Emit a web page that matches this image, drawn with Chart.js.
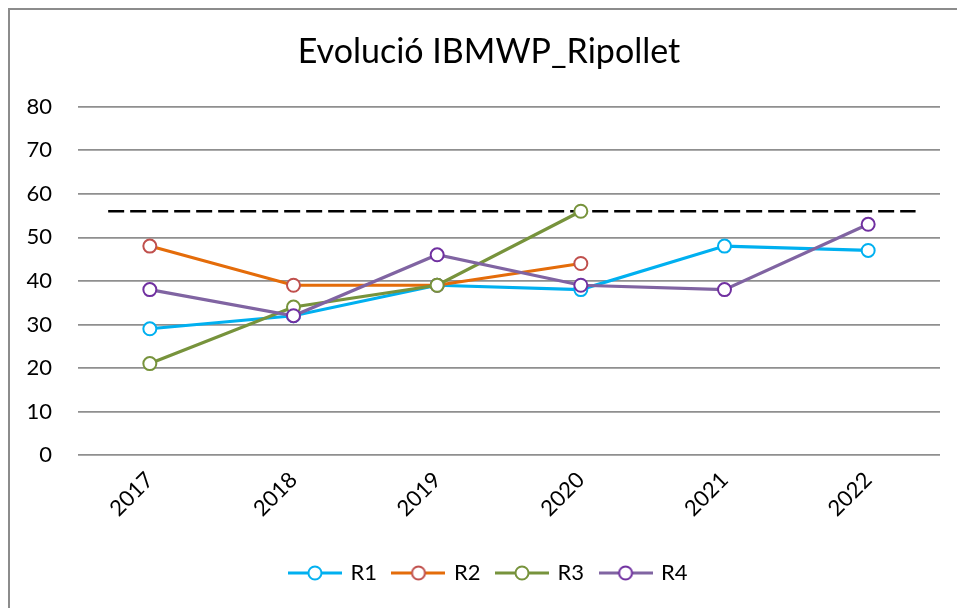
<!DOCTYPE html>
<html>
<head>
<meta charset="utf-8">
<title>Evolució IBMWP_Ripollet</title>
<script src="https://cdn.jsdelivr.net/npm/chart.js@4/dist/chart.umd.min.js"></script>
<style>
    html, body { margin: 0; padding: 0; background: #fff; }
    .frame {
        position: absolute; left: 8px; top: 8px; width: 1000px; height: 700px;
        border-left: 2px solid #8c8c8c; border-top: 2px solid #8c8c8c;
    }
    #chart { position: absolute; left: 0; top: 0; }
</style>
</head>
<body>
<div class="frame"></div>
<canvas id="chart" width="957" height="608"></canvas>

<script>
/* ================= DATA ================= */
const years = ['2017', '2018', '2019', '2020', '2021', '2022'];
const r1 = [29, 32, 39, 38, 48, 47];
const r2 = [48, 39, 39, 44, null, null];
const r3 = [21, 34, 39, 56, null, null];
const r4 = [38, 32, 46, 39, 38, 53];
const yTicks = [0, 10, 20, 30, 40, 50, 60, 70, 80];

// reference level (dashed), spans a bit past the first/last year
const refLevel = 56;
const refFrom = -0.29;
const refTo = 5.33;

/* ================= STYLES ================= */
const FONT = 'Lato, "Open Sans", sans-serif';
const HEADER_INSET = 38; // title + legend are centred over [inset, chart right]
const series = [
    { label: 'R1', data: r1, line: '#00b0f0', marker: '#00b0f0' },
    { label: 'R2', data: r2, line: '#e46c0a', marker: '#c0504d' },
    { label: 'R3', data: r3, line: '#77933c', marker: '#77933c' },
    { label: 'R4', data: r4, line: '#8064a2', marker: '#7030a0' }
];

// legend swatch: short line with an open circle in the middle
function legendSwatch(s) {
    const c = document.createElement('canvas');
    c.width = 54; c.height = 16;
    const g = c.getContext('2d');
    g.strokeStyle = s.line;
    g.lineWidth = 3;
    g.beginPath(); g.moveTo(0, 8); g.lineTo(54, 8); g.stroke();
    g.fillStyle = '#fff';
    g.strokeStyle = s.marker;
    g.lineWidth = 2;
    g.beginPath(); g.arc(27, 8, 6.5, 0, Math.PI * 2); g.fill(); g.stroke();
    return c;
}

/* ================= PLUGINS ================= */
const refLinePlugin = {
    id: 'refLine',
    afterLayout(chart) {
        // nudge the title and legend boxes so they sit centred like the plot
        if (chart.titleBlock) chart.titleBlock.left = HEADER_INSET;
        if (chart.legend) chart.legend.left = HEADER_INSET;
    },
    beforeDatasetsDraw(chart) {
        const x = chart.scales.x, y = chart.scales.y;
        const ctx = chart.ctx;
        const py = y.getPixelForValue(refLevel);
        ctx.save();
        ctx.strokeStyle = '#000';
        ctx.lineWidth = 2.5;
        ctx.setLineDash([16, 6]);
        ctx.beginPath();
        ctx.moveTo(x.getPixelForValue(refFrom), py);
        ctx.lineTo(x.getPixelForValue(refTo), py);
        ctx.stroke();
        ctx.restore();
    }
};

/* ================= CHART ================= */
new Chart(document.getElementById('chart'), {
    type: 'line',
    data: {
        labels: years,
        datasets: series.map((s, i) => ({
            label: s.label,
            data: s.data,
            borderColor: s.line,
            borderWidth: 3.2,
            pointRadius: 6.5,
            pointHoverRadius: 6.5,
            pointBackgroundColor: '#fff',
            pointBorderColor: s.marker,
            pointBorderWidth: 2,
            tension: 0,
            order: series.length - i   // later series drawn on top
        }))
    },
    options: {
        responsive: false,
        animation: false,
        layout: { padding: { left: 0, right: 17, top: 0, bottom: 14 } },
        plugins: {
            title: {
                display: true,
                text: 'Evolució IBMWP_Ripollet',
                color: '#000',
                font: { family: FONT, size: 34, weight: 'normal' },
                padding: { top: 32, bottom: 34 }
            },
            legend: {
                position: 'bottom',
                labels: {
                    color: '#000',
                    font: { family: FONT, size: 22 },
                    usePointStyle: true,
                    pointStyleWidth: 49,
                    padding: 17,
                    sort: (a, b) => a.datasetIndex - b.datasetIndex,
                    generateLabels(chart) {
                        const items = Chart.defaults.plugins.legend.labels.generateLabels(chart);
                        items.forEach(it => { it.pointStyle = legendSwatch(series[it.datasetIndex]); });
                        return items;
                    }
                }
            },
            tooltip: { enabled: false }
        },
        scales: {
            x: {
                offset: true,
                grid: { display: false, drawTicks: false },
                border: { display: false },
                ticks: {
                    color: '#000',
                    font: { family: FONT, size: 22 },
                    minRotation: 45, maxRotation: 45,
                    padding: 12
                },
                afterFit(scale) { scale.height = 90; }
            },
            y: {
                min: 0, max: 80,
                afterBuildTicks(scale) { scale.ticks = yTicks.map(v => ({ value: v })); },
                grid: { color: '#8f8f8f', lineWidth: 1.75, drawTicks: false },
                border: { display: false },
                ticks: {
                    color: '#000',
                    font: { family: FONT, size: 22 },
                    padding: 26
                },
                afterFit(scale) { scale.width = 78; }
            }
        }
    },
    plugins: [refLinePlugin]
});
</script>
</body>
</html>
